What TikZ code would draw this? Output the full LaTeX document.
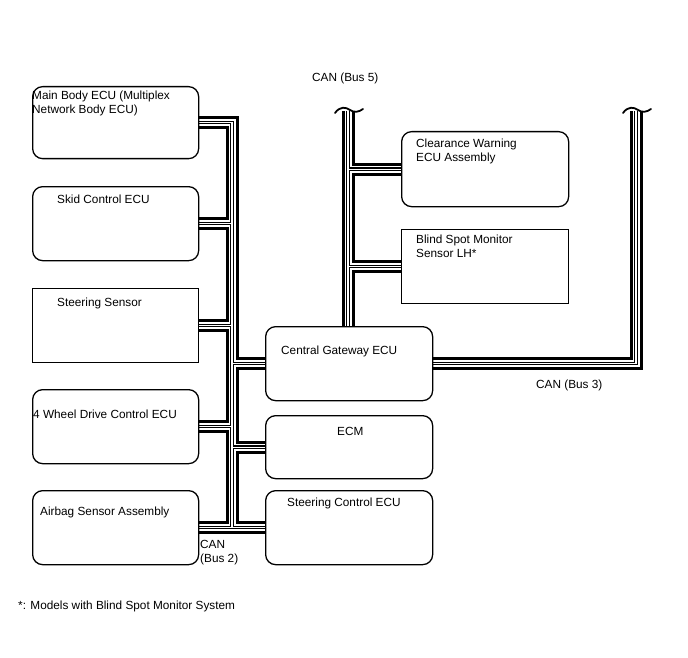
\documentclass[tikz,border=0pt]{standalone}
\usepackage{fontspec}
\setmainfont{Liberation Sans}
\usetikzlibrary{backgrounds}
\begin{document}
\begin{tikzpicture}[x=1pt,y=-1pt,
  box/.style={draw,line width=1.3pt,rounded corners=10pt,fill=white,anchor=north west,minimum width=166pt,minimum height=74pt,inner sep=0pt},
  sbox/.style={box,rounded corners=0pt},
  lbl/.style={anchor=base west,inner sep=0pt,font=\fontsize{11.8}{14}\selectfont},
  squig/.style={line width=1.8pt,line cap=round}
]
\useasboundingbox (0,0) rectangle (688,658);
% boxes
\node[box,minimum height=72pt] (mb) at (32,86) {};
\node[box] (sk) at (32,186) {};
\node[sbox] (ss) at (32,288) {};
\node[box] (wd) at (32,389) {};
\node[box] (ab) at (32,490) {};
\node[box,minimum width=167pt] (cgw) at (265,326) {};
\node[box,minimum width=167pt,minimum height=63pt] (ecm) at (265,415) {};
\node[box,minimum width=167pt] (scu) at (265,490) {};
\node[box,minimum width=167pt,minimum height=75pt] (cw) at (401,131) {};
\node[sbox,minimum width=167pt] (bsm) at (401,229) {};
% bus coordinates
\coordinate (tA) at (232,0);
\coordinate (tB5) at (348,111);
\coordinate (tB3) at (636,111);
\newcommand\allbuslines[1]{%
  \draw[#1] (mb.east) -| (ab.east -| tA);
  \draw[#1] (sk.east) -- (sk.east -| tA);
  \draw[#1] (ss.east) -- (ss.east -| tA);
  \draw[#1] (wd.east) -- (wd.east -| tA);
  \draw[#1] (ab.east) -- (scu.west);
  \draw[#1] (cgw.west -| tA) -- (cgw.west);
  \draw[#1] (ecm.west -| tA) -- (ecm.west);
  \draw[#1] (tB5) -- (cgw.north -| tB5);
  \draw[#1] (cw.west -| tB5) -- (cw.west);
  \draw[#1] (bsm.west -| tB5) -- (bsm.west);
  \draw[#1] (cgw.east) -| (tB3);
}
\begin{scope}[on background layer]
  \allbuslines{line width=13pt,black}
  \allbuslines{line width=7pt,white}
  \allbuslines{line width=3.4pt,black}
  \allbuslines{line width=1.2pt,white}
\end{scope}
% break marks
\draw[squig] ([shift={(-13,2)}]tB5) .. controls ([shift={(-8,-5)}]tB5) and ([shift={(-2,-4)}]tB5) .. ([shift={(2,-1)}]tB5) .. controls ([shift={(6,2)}]tB5) and ([shift={(11,1)}]tB5) .. ([shift={(15,-2)}]tB5);
\draw[squig] ([shift={(-13,2)}]tB3) .. controls ([shift={(-8,-5)}]tB3) and ([shift={(-2,-4)}]tB3) .. ([shift={(2,-1)}]tB3) .. controls ([shift={(6,2)}]tB3) and ([shift={(11,1)}]tB3) .. ([shift={(15,-2)}]tB3);
% labels
\node[lbl] (t1a) at (32,100) {Main Body ECU (Multiplex};
\node[lbl] (t1b) at (32,114) {Network Body ECU)};
\node[lbl] (t2) at (57,203) {Skid Control ECU};
\node[lbl] (t3) at (57,306) {Steering Sensor};
\node[lbl] (t4) at (33,418) {4 Wheel Drive Control ECU};
\node[lbl] (t5) at (40,515) {Airbag Sensor Assembly};
\node[lbl] (t6) at (281,354) {Central Gateway ECU};
\node[lbl] (t7) at (337,435) {ECM};
\node[lbl] (t8) at (287,506) {Steering Control ECU};
\node[lbl] (t9a) at (416,147) {Clearance Warning};
\node[lbl] (t9b) at (416,161) {ECU Assembly};
\node[lbl] (t10a) at (416,243) {Blind Spot Monitor};
\node[lbl] (t10b) at (416,257) {Sensor LH*};
\node[lbl] (c5) at (312,82) {CAN (Bus 5)};
\node[lbl] (c3) at (536,388) {CAN (Bus 3)};
\node[lbl] (c2a) at (200,548) {CAN};
\node[lbl] (c2b) at (200,562) {(Bus 2)};
\node[lbl] (note) at (18,609) {*: Models with Blind Spot Monitor System};
\end{tikzpicture}
\end{document}
